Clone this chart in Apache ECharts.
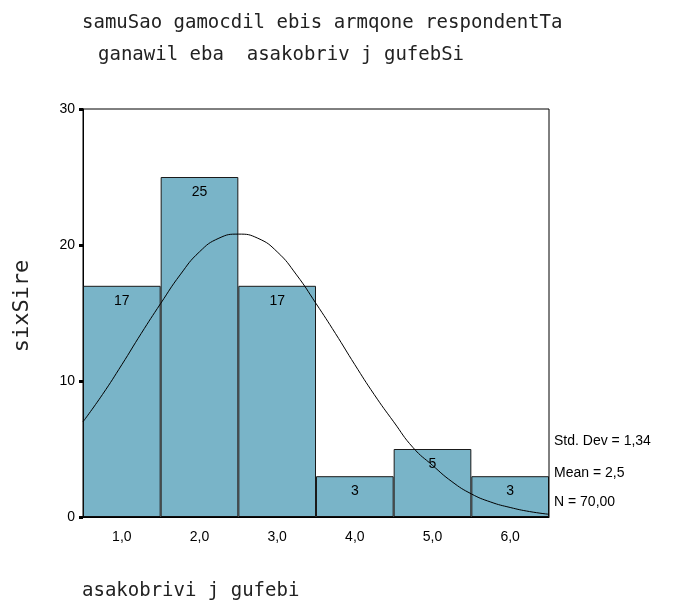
<!DOCTYPE html>
<html>
<head>
<meta charset="utf-8">
<script src="https://cdn.jsdelivr.net/npm/echarts@6/dist/echarts.min.js"></script>
<style>
  html, body { margin: 0; padding: 0; background: #fff; }
  #main { width: 675px; height: 608px; }
</style>
</head>
<body>
<div id="main"></div>
<script>
// histogram bins
const binLabels = ['1,0', '2,0', '3,0', '4,0', '5,0', '6,0']
const counts = [17, 25, 17, 3, 5, 3]

// normal curve
const curveX = [0.5, 0.75, 1.0, 1.25, 1.5, 1.75, 2.0, 2.25, 2.5, 2.75, 3.0, 3.25, 3.5,
  3.75, 4.0, 4.25, 4.5, 4.75, 5.0, 5.25, 5.5, 5.75, 6.0, 6.25, 6.5]
const curveY = [7.0, 9.0, 11.2, 13.5, 15.7, 17.8, 19.5, 20.5, 20.8, 20.5, 19.5, 17.8, 15.7,
  13.5, 11.2, 9.0, 7.0, 5.1, 3.8, 2.6, 1.7, 1.1, 0.7, 0.4, 0.2]

const yTicks = [0, 10, 20, 30]

const titleLines = ['samuSao gamocdil ebis armqone respondentTa', 'ganawil eba  asakobriv j gufebSi']
const yName = 'sixSire'
const xName = 'asakobrivi j gufebi'
const stats = ['Std. Dev = 1,34', 'Mean = 2,5', 'N = 70,00']

const myChart = echarts.init(document.getElementById('main'))

const monoFont = '19px "DejaVu Sans Mono"'
const numFont = { fontFamily: 'Liberation Sans', fontSize: 14, color: '#000' }

function label (text, x, y, font, extra, align) {
  return Object.assign({
    type: 'text', x: x, y: y,
    style: { text: text, font: font, fill: '#222', textVerticalAlign: 'middle', textAlign: align || 'left' }
  }, extra || {})
}

const option = {
  backgroundColor: '#fff',
  animation: false,
  grid: {
    left: 83,
    right: 126,
    top: 109,
    bottom: 91,
    show: true,
    borderColor: '#000',
    borderWidth: 1,
    z: 10
  },
  xAxis: [
    {
      type: 'category',
      data: binLabels,
      boundaryGap: true,
      axisLine: { lineStyle: { color: '#000', width: 1 } },
      axisTick: { alignWithLabel: true, length: 4, lineStyle: { color: '#000', width: 3 } },
      axisLabel: { margin: 13, ...numFont }
    },
    {
      type: 'value',
      min: 0.5,
      max: 6.5,
      show: false
    }
  ],
  yAxis: {
    type: 'value',
    min: 0,
    max: 30,
    interval: 10,
    splitLine: { show: false },
    axisLine: { show: true, lineStyle: { color: '#000', width: 1 } },
    axisTick: { show: true, length: 4, lineStyle: { color: '#000', width: 3 } },
    axisLabel: {
      margin: 8,
      ...numFont,
      formatter: function (v) { return yTicks.indexOf(v) >= 0 ? String(v) : '' }
    }
  },
  graphic: [
    label(titleLines[0], 82, 23, monoFont),
    label(titleLines[1], 98, 55, monoFont),
    label(xName, 82, 591, monoFont),
    label(yName, 22, 306, '22px "DejaVu Sans Mono"', { rotation: Math.PI / 2 }, 'center'),
    ...stats.map(function (s, i) {
      return {
        type: 'text', x: 554, y: [441, 473, 502][i],
        style: { text: s, font: '14px "Liberation Sans"', fill: '#000', textVerticalAlign: 'middle' }
      }
    })
  ],
  series: [
    {
      type: 'bar',
      xAxisIndex: 0,
      data: counts,
      barCategoryGap: '0%',
      itemStyle: { color: '#79b4c8', borderColor: '#1a1a1a', borderWidth: 1 },
      label: { show: true, position: 'insideTop', distance: 8, ...numFont }
    },
    {
      type: 'line',
      xAxisIndex: 1,
      data: curveX.map(function (x, i) { return [x, curveY[i]] }),
      smooth: true,
      symbol: 'none',
      lineStyle: { color: '#000', width: 1 },
      z: 5
    }
  ]
}

myChart.setOption(option)
</script>
</body>
</html>
